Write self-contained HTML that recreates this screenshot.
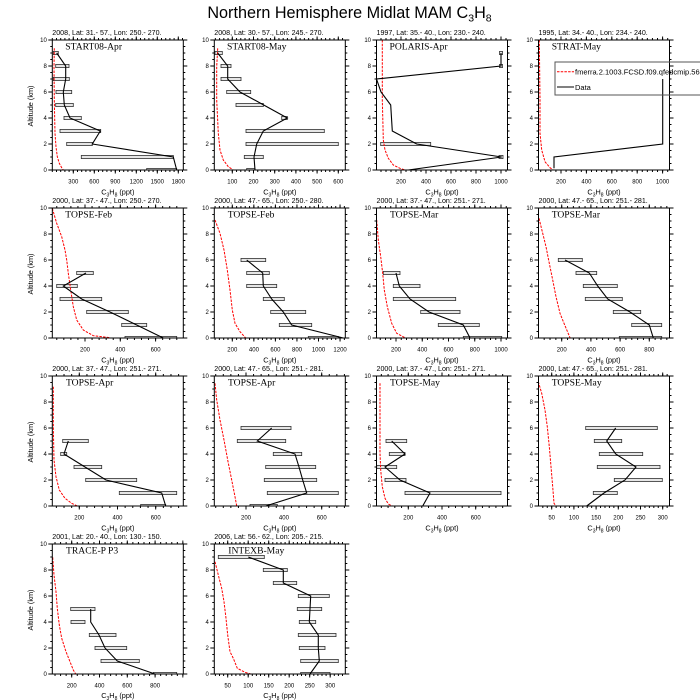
<!DOCTYPE html>
<html><head><meta charset="utf-8">
<style>
html,body{margin:0;padding:0;background:#fff;}
body{width:700px;height:700px;overflow:hidden;}
svg{display:block;}
text{font-family:"Liberation Sans",sans-serif;fill:#000;}
.yt{font-size:6px;text-anchor:end;}
.xt{font-size:6px;text-anchor:middle;}
.sub{font-size:7.1px;}
.lab{font-family:"Liberation Serif",serif;font-size:9.6px;}
.at{font-size:7.3px;text-anchor:middle;}
.ttl{font-size:16.2px;text-anchor:middle;}
.red{fill:none;stroke:#ff0000;stroke-width:1;stroke-dasharray:2.5 1.2;}
.blk{fill:none;stroke:#000;stroke-width:1.1;}
.bx rect{fill:#e6e6e6;stroke:#333;stroke-width:0.8;}
.fr{fill:none;stroke:#000;stroke-width:1;}
.tk line{stroke:#000;}
</style></head>
<body>
<svg width="700" height="700" viewBox="0 0 700 700" xmlns="http://www.w3.org/2000/svg">
<defs>
<g id="yl" stroke="#000"><line x1="-2" y1="-0.5" x2="-2" y2="130.5" stroke-width="4" stroke-dasharray="1 25"/><line x1="-1" y1="-0.5" x2="-1" y2="130.5" stroke-width="2" stroke-dasharray="1 5.5"/></g>
<g id="yr" stroke="#000"><line x1="2" y1="-0.5" x2="2" y2="130.5" stroke-width="4" stroke-dasharray="1 25"/><line x1="1" y1="-0.5" x2="1" y2="130.5" stroke-width="2" stroke-dasharray="1 5.5"/></g>
</defs>

<text class="ttl" x="349.5" y="18">Northern Hemisphere Midlat MAM C<tspan font-size="10.5" dy="3.3">3</tspan><tspan dy="-3.3">H</tspan><tspan font-size="10.5" dy="3.3">8</tspan></text>

<!-- ===== Panel 1 ===== -->
<g>
<text class="sub" x="52.3" y="35">2008, Lat:  31.- 57., Lon: 250.- 270.</text>
<g class="bx">
<rect x="53.3" y="51.4" width="5" height="3.2"/><rect x="55.7" y="64.4" width="13.3" height="3.2"/><rect x="53.3" y="77.4" width="16" height="3.2"/><rect x="56" y="90.4" width="15.7" height="3.2"/><rect x="55.7" y="103.4" width="17.6" height="3.2"/><rect x="64" y="116.4" width="17.3" height="3.2"/><rect x="60" y="129.4" width="40.7" height="3.2"/><rect x="66.7" y="142.4" width="25.6" height="3.2"/><rect x="81.3" y="155.4" width="92" height="3.2"/><rect x="146.7" y="168.4" width="30" height="1.6"/>
</g>
<polyline class="red" points="54.3,48.3 54,66.7 54.3,100 55,133.3 56,146.7 57.3,156.7 59.3,163.3 61.7,167.7 63.3,170"/>
<polyline class="blk" points="176.7,170 173.3,157 92.3,144 100.3,131 70,118 64.3,105 63.3,92 65.7,79 65.7,66 56.7,53"/>
<text class="lab" x="65.3" y="49.7">START08-Apr</text>
<use href="#yl" x="52.3" y="40"/><use href="#yr" x="183.3" y="40"/>
<g class="tk">
<line x1="51.8" y1="171" x2="183.3" y2="171" stroke-width="2" stroke-dasharray="1 3.2"/><line x1="72.8" y1="171.75" x2="183.3" y2="171.75" stroke-width="3.5" stroke-dasharray="1 20"/>
<line x1="51.8" y1="39" x2="183.3" y2="39" stroke-width="2" stroke-dasharray="1 3.2"/><line x1="72.8" y1="38.25" x2="183.3" y2="38.25" stroke-width="3.5" stroke-dasharray="1 20"/>
</g>
<rect class="fr" x="52.3" y="40" width="131" height="130"/>
<text class="yt" x="46.8" y="172.2">0</text><text class="yt" x="46.8" y="146.2">2</text><text class="yt" x="46.8" y="120.2">4</text><text class="yt" x="46.8" y="94.2">6</text><text class="yt" x="46.8" y="68.2">8</text><text class="yt" x="46.8" y="42.2">10</text>
<text class="xt" x="73.3" y="183.5">300</text><text class="xt" x="94.3" y="183.5">600</text><text class="xt" x="115.3" y="183.5">900</text><text class="xt" x="136.3" y="183.5">1200</text><text class="xt" x="157.3" y="183.5">1500</text><text class="xt" x="178.3" y="183.5">1800</text>
<text class="at" x="117.8" y="194.5">C<tspan font-size="5" dy="1.8">3</tspan><tspan dy="-1.8">H</tspan><tspan font-size="5" dy="1.8">8</tspan><tspan dy="-1.8"> (ppt)</tspan></text>
<text class="at" transform="translate(33,106) rotate(-90)">Altitude (km)</text>
</g>

<!-- ===== Panel 2 ===== -->
<g>
<text class="sub" x="214.3" y="35">2008, Lat:  30.- 57., Lon: 245.- 270.</text>
<g class="bx">
<rect x="215" y="51.4" width="7.3" height="3.2"/><rect x="221" y="64.4" width="10" height="3.2"/><rect x="221" y="77.4" width="20" height="3.2"/><rect x="226.7" y="90.4" width="24" height="3.2"/><rect x="236" y="103.4" width="27.3" height="3.2"/><rect x="281.7" y="116.4" width="5.6" height="3.2"/><rect x="246" y="129.4" width="78.3" height="3.2"/><rect x="246" y="142.4" width="92.3" height="3.2"/><rect x="244.3" y="155.4" width="19" height="3.2"/><rect x="246.7" y="168.4" width="8.3" height="1.6"/>
</g>
<polyline class="red" points="217.7,48.3 216.7,66.7 216.7,100 218.3,133.3 220,150 223.3,160 228.3,166.7 233.3,170"/>
<polyline class="blk" points="255,170 254,157 256.7,144 263.3,131 287.3,118 263.7,105 240,92 227.7,79 227.7,66 217.7,53"/>
<text class="lab" x="227" y="49.7">START08-May</text>
<use href="#yl" x="214.3" y="40"/><use href="#yr" x="345.3" y="40"/>
<g class="tk">
<line x1="214.84" y1="171" x2="345.3" y2="171" stroke-width="2" stroke-dasharray="1 3.24"/><line x1="231.8" y1="171.75" x2="345.3" y2="171.75" stroke-width="3.5" stroke-dasharray="1 20.2"/>
<line x1="214.84" y1="39" x2="345.3" y2="39" stroke-width="2" stroke-dasharray="1 3.24"/><line x1="231.8" y1="38.25" x2="345.3" y2="38.25" stroke-width="3.5" stroke-dasharray="1 20.2"/>
</g>
<rect class="fr" x="214.3" y="40" width="131" height="130"/>
<text class="yt" x="208.8" y="172.2">0</text><text class="yt" x="208.8" y="146.2">2</text><text class="yt" x="208.8" y="120.2">4</text><text class="yt" x="208.8" y="94.2">6</text><text class="yt" x="208.8" y="68.2">8</text><text class="yt" x="208.8" y="42.2">10</text>
<text class="xt" x="232.3" y="183.5">100</text><text class="xt" x="253.5" y="183.5">200</text><text class="xt" x="274.7" y="183.5">300</text><text class="xt" x="295.9" y="183.5">400</text><text class="xt" x="317.1" y="183.5">500</text><text class="xt" x="338.3" y="183.5">600</text>
<text class="at" x="279.8" y="194.5">C<tspan font-size="5" dy="1.8">3</tspan><tspan dy="-1.8">H</tspan><tspan font-size="5" dy="1.8">8</tspan><tspan dy="-1.8"> (ppt)</tspan></text>
</g>

<!-- ===== Panel 3 ===== -->
<g>
<text class="sub" x="376.5" y="35">1997, Lat: 35.- 40., Lon: 230.- 240.</text>
<g class="bx">
<rect x="499.5" y="51.4" width="3" height="3.2"/><rect x="499.5" y="64.4" width="3" height="3.2"/><rect x="380.7" y="142.4" width="50" height="3.2"/><rect x="499" y="155.4" width="4" height="3.2"/>
</g>
<polyline class="red" points="382.3,40 382.3,100 383,126.7 383.3,140 385,150 388.3,158.3 393.3,165 400,168.3 405,170"/>
<polyline class="blk" points="408.3,170 501.7,157 416.7,144 392.3,131 390.7,105 381,92 376.5,79 501,66 501,53"/>
<text class="lab" x="389.5" y="49.7">POLARIS-Apr</text>
<use href="#yl" x="376.5" y="40"/><use href="#yr" x="507.5" y="40"/>
<g class="tk">
<line x1="380.5" y1="171" x2="507.5" y2="171" stroke-width="2" stroke-dasharray="1 4"/><line x1="400.5" y1="171.75" x2="507.5" y2="171.75" stroke-width="3.5" stroke-dasharray="1 24"/>
<line x1="380.5" y1="39" x2="507.5" y2="39" stroke-width="2" stroke-dasharray="1 4"/><line x1="400.5" y1="38.25" x2="507.5" y2="38.25" stroke-width="3.5" stroke-dasharray="1 24"/>
</g>
<rect class="fr" x="376.5" y="40" width="131" height="130"/>
<text class="yt" x="371" y="172.2">0</text><text class="yt" x="371" y="146.2">2</text><text class="yt" x="371" y="120.2">4</text><text class="yt" x="371" y="94.2">6</text><text class="yt" x="371" y="68.2">8</text><text class="yt" x="371" y="42.2">10</text>
<text class="xt" x="401" y="183.5">200</text><text class="xt" x="426" y="183.5">400</text><text class="xt" x="451" y="183.5">600</text><text class="xt" x="476" y="183.5">800</text><text class="xt" x="501" y="183.5">1000</text>
<text class="at" x="442" y="194.5">C<tspan font-size="5" dy="1.8">3</tspan><tspan dy="-1.8">H</tspan><tspan font-size="5" dy="1.8">8</tspan><tspan dy="-1.8"> (ppt)</tspan></text>
</g>

<!-- ===== Panel 4 ===== -->
<g>
<text class="sub" x="538.5" y="35">1995, Lat: 34.- 40., Lon: 234.- 240.</text>
<polyline class="red" points="539.3,40 540,100 540,133.3 541.7,150 545,161.7 550,167.7 553.3,170"/>
<polyline class="blk" points="554,168.3 554,157 662.7,144 662.7,79"/>
<text class="lab" x="551.7" y="49.7">STRAT-May</text>
<use href="#yl" x="538.5" y="40"/><use href="#yr" x="669.5" y="40"/>
<g class="tk">
<line x1="540.18" y1="171" x2="669.5" y2="171" stroke-width="2" stroke-dasharray="1 4.08"/><line x1="560.5" y1="171.75" x2="669.5" y2="171.75" stroke-width="3.5" stroke-dasharray="1 24.4"/>
<line x1="540.18" y1="39" x2="669.5" y2="39" stroke-width="2" stroke-dasharray="1 4.08"/><line x1="560.5" y1="38.25" x2="669.5" y2="38.25" stroke-width="3.5" stroke-dasharray="1 24.4"/>
</g>
<rect class="fr" x="538.5" y="40" width="131" height="130"/>
<text class="yt" x="533" y="172.2">0</text><text class="yt" x="533" y="146.2">2</text><text class="yt" x="533" y="120.2">4</text><text class="yt" x="533" y="94.2">6</text><text class="yt" x="533" y="68.2">8</text><text class="yt" x="533" y="42.2">10</text>
<text class="xt" x="561" y="183.5">200</text><text class="xt" x="586.4" y="183.5">400</text><text class="xt" x="611.8" y="183.5">600</text><text class="xt" x="637.2" y="183.5">800</text><text class="xt" x="662.6" y="183.5">1000</text>
<text class="at" x="604" y="194.5">C<tspan font-size="5" dy="1.8">3</tspan><tspan dy="-1.8">H</tspan><tspan font-size="5" dy="1.8">8</tspan><tspan dy="-1.8"> (ppt)</tspan></text>
<!-- legend -->
<rect x="555" y="62" width="170" height="33" fill="none" stroke="#555" stroke-width="1"/>
<line x1="557" y1="71.7" x2="574" y2="71.7" stroke="#ff0000" stroke-width="1" stroke-dasharray="2.5 1.2"/>
<text x="575" y="74.5" font-size="7.5">fmerra.2.1003.FCSD.f09.qfedcmip.56L.001</text>
<line x1="557" y1="87" x2="574" y2="87" stroke="#000" stroke-width="1.1"/>
<text x="575" y="89.8" font-size="7.5">Data</text>
</g>

<!-- ===== Panel 5 ===== -->
<g>
<text class="sub" x="52.3" y="203">2000, Lat: 37.- 47., Lon: 250.- 270.</text>
<g class="bx">
<rect x="76.7" y="271.4" width="16.6" height="3.2"/><rect x="56.7" y="284.4" width="20.6" height="3.2"/><rect x="60" y="297.4" width="41.7" height="3.2"/><rect x="86.7" y="310.4" width="41.6" height="3.2"/><rect x="121.7" y="323.4" width="25" height="3.2"/><rect x="125" y="336.4" width="51.7" height="1.6"/>
</g>
<polyline class="red" points="52.3,208.3 56.7,223.3 61.7,236.7 65,250 66.7,260 68.3,273.3 70.7,290 73.3,306.7 76.7,320 83.3,330 93.3,335.7 110,337.7"/>
<polyline class="blk" points="163.3,338 136.7,325 110,312 81.7,299 63.3,286 86,273"/>
<text class="lab" x="65.3" y="217.7">TOPSE-Feb</text>
<use href="#yl" x="52.3" y="208"/><use href="#yr" x="183.3" y="208"/>
<g class="tk">
<line x1="56.26" y1="339" x2="183.3" y2="339" stroke-width="2" stroke-dasharray="1 6.06"/><line x1="84.5" y1="339.75" x2="183.3" y2="339.75" stroke-width="3.5" stroke-dasharray="1 34.3"/>
<line x1="56.26" y1="207" x2="183.3" y2="207" stroke-width="2" stroke-dasharray="1 6.06"/><line x1="84.5" y1="206.25" x2="183.3" y2="206.25" stroke-width="3.5" stroke-dasharray="1 34.3"/>
</g>
<rect class="fr" x="52.3" y="208" width="131" height="130"/>
<text class="yt" x="46.8" y="340.2">0</text><text class="yt" x="46.8" y="314.2">2</text><text class="yt" x="46.8" y="288.2">4</text><text class="yt" x="46.8" y="262.2">6</text><text class="yt" x="46.8" y="236.2">8</text><text class="yt" x="46.8" y="210.2">10</text>
<text class="xt" x="85" y="351.5">200</text><text class="xt" x="120.3" y="351.5">400</text><text class="xt" x="155.6" y="351.5">600</text>
<text class="at" x="117.8" y="362.5">C<tspan font-size="5" dy="1.8">3</tspan><tspan dy="-1.8">H</tspan><tspan font-size="5" dy="1.8">8</tspan><tspan dy="-1.8"> (ppt)</tspan></text>
<text class="at" transform="translate(33,274) rotate(-90)">Altitude (km)</text>
</g>

<!-- ===== Panel 6 ===== -->
<g>
<text class="sub" x="214.3" y="203">2000, Lat: 47.- 65., Lon: 250.- 280.</text>
<g class="bx">
<rect x="241" y="258.4" width="24.7" height="3.2"/><rect x="246.7" y="271.4" width="22.6" height="3.2"/><rect x="246.7" y="284.4" width="30" height="3.2"/><rect x="263.3" y="297.4" width="21" height="3.2"/><rect x="270.7" y="310.4" width="35" height="3.2"/><rect x="279.3" y="323.4" width="32.4" height="3.2"/><rect x="308.3" y="336.4" width="30" height="1.6"/>
</g>
<polyline class="red" points="215,220 220,233.3 224,250 227.3,270 230,290 232.3,310 235,323.3 240,331.7 245.7,338"/>
<polyline class="blk" points="343.3,338 291.7,325 283.3,312 271.7,299 263.3,286 262.7,273 246.7,260"/>
<text class="lab" x="227.7" y="217.7">TOPSE-Feb</text>
<use href="#yl" x="214.3" y="208"/><use href="#yr" x="345.3" y="208"/>
<g class="tk">
<line x1="214.56" y1="339" x2="345.3" y2="339" stroke-width="2" stroke-dasharray="1 3.31"/><line x1="231.8" y1="339.75" x2="345.3" y2="339.75" stroke-width="3.5" stroke-dasharray="1 20.55"/>
<line x1="214.56" y1="207" x2="345.3" y2="207" stroke-width="2" stroke-dasharray="1 3.31"/><line x1="231.8" y1="206.25" x2="345.3" y2="206.25" stroke-width="3.5" stroke-dasharray="1 20.55"/>
</g>
<rect class="fr" x="214.3" y="208" width="131" height="130"/>
<text class="yt" x="208.8" y="340.2">0</text><text class="yt" x="208.8" y="314.2">2</text><text class="yt" x="208.8" y="288.2">4</text><text class="yt" x="208.8" y="262.2">6</text><text class="yt" x="208.8" y="236.2">8</text><text class="yt" x="208.8" y="210.2">10</text>
<text class="xt" x="232.3" y="351.5">200</text><text class="xt" x="253.9" y="351.5">400</text><text class="xt" x="275.4" y="351.5">600</text><text class="xt" x="297" y="351.5">800</text><text class="xt" x="318.5" y="351.5">1000</text><text class="xt" x="340.1" y="351.5">1200</text>
<text class="at" x="279.8" y="362.5">C<tspan font-size="5" dy="1.8">3</tspan><tspan dy="-1.8">H</tspan><tspan font-size="5" dy="1.8">8</tspan><tspan dy="-1.8"> (ppt)</tspan></text>
</g>

<!-- ===== Panel 7 ===== -->
<g>
<text class="sub" x="376.5" y="203">2000, Lat: 37.- 47., Lon: 251.- 271.</text>
<g class="bx">
<rect x="383.3" y="271.4" width="16.7" height="3.2"/><rect x="393.3" y="284.4" width="26.7" height="3.2"/><rect x="393.3" y="297.4" width="62.4" height="3.2"/><rect x="420.7" y="310.4" width="39.3" height="3.2"/><rect x="438.3" y="323.4" width="41" height="3.2"/><rect x="463.3" y="336.4" width="38.4" height="1.6"/>
</g>
<polyline class="red" points="376.7,220 378.3,240 380.7,256.7 382.7,273.3 384.3,290 387.3,306.7 391.7,323.3 396.7,333.3 405,337.7"/>
<polyline class="blk" points="470,338 463.3,325 429,312 410,299 399.3,286 396,273"/>
<text class="lab" x="390" y="217.7">TOPSE-Mar</text>
<use href="#yl" x="376.5" y="208"/><use href="#yr" x="507.5" y="208"/>
<g class="tk">
<line x1="379.75" y1="339" x2="507.5" y2="339" stroke-width="2" stroke-dasharray="1 4.25"/><line x1="395.5" y1="339.75" x2="507.5" y2="339.75" stroke-width="3.5" stroke-dasharray="1 25.25"/>
<line x1="379.75" y1="207" x2="507.5" y2="207" stroke-width="2" stroke-dasharray="1 4.25"/><line x1="395.5" y1="206.25" x2="507.5" y2="206.25" stroke-width="3.5" stroke-dasharray="1 25.25"/>
</g>
<rect class="fr" x="376.5" y="208" width="131" height="130"/>
<text class="yt" x="371" y="340.2">0</text><text class="yt" x="371" y="314.2">2</text><text class="yt" x="371" y="288.2">4</text><text class="yt" x="371" y="262.2">6</text><text class="yt" x="371" y="236.2">8</text><text class="yt" x="371" y="210.2">10</text>
<text class="xt" x="396" y="351.5">200</text><text class="xt" x="422.3" y="351.5">400</text><text class="xt" x="448.5" y="351.5">600</text><text class="xt" x="474.8" y="351.5">800</text><text class="xt" x="501" y="351.5">1000</text>
<text class="at" x="442" y="362.5">C<tspan font-size="5" dy="1.8">3</tspan><tspan dy="-1.8">H</tspan><tspan font-size="5" dy="1.8">8</tspan><tspan dy="-1.8"> (ppt)</tspan></text>
</g>

<!-- ===== Panel 8 ===== -->
<g>
<text class="sub" x="538.5" y="203">2000, Lat: 47.- 65., Lon: 251.- 281.</text>
<g class="bx">
<rect x="558.3" y="258.4" width="24" height="3.2"/><rect x="576" y="271.4" width="20.7" height="3.2"/><rect x="583.3" y="284.4" width="34" height="3.2"/><rect x="585.3" y="297.4" width="37" height="3.2"/><rect x="613.3" y="310.4" width="27.4" height="3.2"/><rect x="631.7" y="323.4" width="30" height="3.2"/><rect x="619.3" y="336.4" width="42.4" height="1.6"/>
</g>
<polyline class="red" points="539,218.3 542.7,233.3 546,246.7 549.3,263.3 552.7,280 556,296.7 560,313.3 564,323.3 570,337.7"/>
<polyline class="blk" points="653.3,338 649.3,325 630,312 607.7,299 597.7,286 589.3,273 565,260"/>
<text class="lab" x="551.7" y="217.7">TOPSE-Mar</text>
<use href="#yl" x="538.5" y="208"/><use href="#yr" x="669.5" y="208"/>
<g class="tk">
<line x1="543.68" y1="339" x2="669.5" y2="339" stroke-width="2" stroke-dasharray="1 4.84"/><line x1="561.2" y1="339.75" x2="669.5" y2="339.75" stroke-width="3.5" stroke-dasharray="1 28.2"/>
<line x1="543.68" y1="207" x2="669.5" y2="207" stroke-width="2" stroke-dasharray="1 4.84"/><line x1="561.2" y1="206.25" x2="669.5" y2="206.25" stroke-width="3.5" stroke-dasharray="1 28.2"/>
</g>
<rect class="fr" x="538.5" y="208" width="131" height="130"/>
<text class="yt" x="533" y="340.2">0</text><text class="yt" x="533" y="314.2">2</text><text class="yt" x="533" y="288.2">4</text><text class="yt" x="533" y="262.2">6</text><text class="yt" x="533" y="236.2">8</text><text class="yt" x="533" y="210.2">10</text>
<text class="xt" x="561.7" y="351.5">200</text><text class="xt" x="590.9" y="351.5">400</text><text class="xt" x="620.1" y="351.5">600</text><text class="xt" x="649.3" y="351.5">800</text>
<text class="at" x="604" y="362.5">C<tspan font-size="5" dy="1.8">3</tspan><tspan dy="-1.8">H</tspan><tspan font-size="5" dy="1.8">8</tspan><tspan dy="-1.8"> (ppt)</tspan></text>
</g>

<!-- ===== Panel 9 ===== -->
<g>
<text class="sub" x="52.3" y="371">2000, Lat: 37.- 47., Lon: 251.- 271.</text>
<g class="bx">
<rect x="62.7" y="439.4" width="25.6" height="3.2"/><rect x="60.7" y="452.4" width="6" height="3.2"/><rect x="74" y="465.4" width="27.7" height="3.2"/><rect x="85.7" y="478.4" width="51" height="3.2"/><rect x="119.3" y="491.4" width="57.4" height="3.2"/><rect x="140.7" y="504.4" width="25" height="1.6"/>
</g>
<polyline class="red" points="53.3,386.7 53.3,426.7 54,460 56,476.7 59.3,490 65,498.3 71.7,503.3 77.3,506"/>
<polyline class="blk" points="165.7,506 161.7,493 106,480 85,467 64,454 68.3,441"/>
<text class="lab" x="66" y="385.7">TOPSE-Apr</text>
<use href="#yl" x="52.3" y="376"/><use href="#yr" x="183.3" y="376"/>
<g class="tk">
<line x1="55.88" y1="507" x2="183.3" y2="507" stroke-width="2" stroke-dasharray="1 6.64"/><line x1="78.8" y1="507.75" x2="183.3" y2="507.75" stroke-width="3.5" stroke-dasharray="1 37.2"/>
<line x1="55.88" y1="375" x2="183.3" y2="375" stroke-width="2" stroke-dasharray="1 6.64"/><line x1="78.8" y1="374.25" x2="183.3" y2="374.25" stroke-width="3.5" stroke-dasharray="1 37.2"/>
</g>
<rect class="fr" x="52.3" y="376" width="131" height="130"/>
<text class="yt" x="46.8" y="508.2">0</text><text class="yt" x="46.8" y="482.2">2</text><text class="yt" x="46.8" y="456.2">4</text><text class="yt" x="46.8" y="430.2">6</text><text class="yt" x="46.8" y="404.2">8</text><text class="yt" x="46.8" y="378.2">10</text>
<text class="xt" x="79.3" y="519.5">200</text><text class="xt" x="117.5" y="519.5">400</text><text class="xt" x="155.7" y="519.5">600</text>
<text class="at" x="117.8" y="530.5">C<tspan font-size="5" dy="1.8">3</tspan><tspan dy="-1.8">H</tspan><tspan font-size="5" dy="1.8">8</tspan><tspan dy="-1.8"> (ppt)</tspan></text>
<text class="at" transform="translate(33,442) rotate(-90)">Altitude (km)</text>
</g>

<!-- ===== Panel 10 ===== -->
<g>
<text class="sub" x="214.3" y="371">2000, Lat: 47.- 65., Lon: 251.- 281.</text>
<g class="bx">
<rect x="241" y="426.4" width="50" height="3.2"/><rect x="237.3" y="439.4" width="48.4" height="3.2"/><rect x="273.3" y="452.4" width="28.4" height="3.2"/><rect x="265.7" y="465.4" width="50" height="3.2"/><rect x="264.3" y="478.4" width="52.4" height="3.2"/><rect x="267.3" y="491.4" width="71" height="3.2"/><rect x="250" y="504.4" width="27.3" height="1.6"/>
</g>
<polyline class="red" points="215,383.3 216.7,400 220,420 224,440 227.7,460 231.7,480 235,496.7 236.7,506"/>
<polyline class="blk" points="265.7,506 306.7,493 302.7,480 299,467 295,454 257.3,441 271.7,428"/>
<text class="lab" x="228" y="385.7">TOPSE-Apr</text>
<use href="#yl" x="214.3" y="376"/><use href="#yr" x="345.3" y="376"/>
<g class="tk">
<line x1="215.22" y1="507" x2="345.3" y2="507" stroke-width="2" stroke-dasharray="1 6.57"/><line x1="245.5" y1="507.75" x2="345.3" y2="507.75" stroke-width="3.5" stroke-dasharray="1 36.85"/>
<line x1="215.22" y1="375" x2="345.3" y2="375" stroke-width="2" stroke-dasharray="1 6.57"/><line x1="245.5" y1="374.25" x2="345.3" y2="374.25" stroke-width="3.5" stroke-dasharray="1 36.85"/>
</g>
<rect class="fr" x="214.3" y="376" width="131" height="130"/>
<text class="yt" x="208.8" y="508.2">0</text><text class="yt" x="208.8" y="482.2">2</text><text class="yt" x="208.8" y="456.2">4</text><text class="yt" x="208.8" y="430.2">6</text><text class="yt" x="208.8" y="404.2">8</text><text class="yt" x="208.8" y="378.2">10</text>
<text class="xt" x="246" y="519.5">200</text><text class="xt" x="283.9" y="519.5">400</text><text class="xt" x="321.7" y="519.5">600</text>
<text class="at" x="279.8" y="530.5">C<tspan font-size="5" dy="1.8">3</tspan><tspan dy="-1.8">H</tspan><tspan font-size="5" dy="1.8">8</tspan><tspan dy="-1.8"> (ppt)</tspan></text>
</g>

<!-- ===== Panel 11 ===== -->
<g>
<text class="sub" x="376.5" y="371">2000, Lat: 37.- 47., Lon: 251.- 271.</text>
<g class="bx">
<rect x="386" y="439.4" width="20.7" height="3.2"/><rect x="389.3" y="452.4" width="15.7" height="3.2"/><rect x="376.7" y="465.4" width="20" height="3.2"/><rect x="385" y="478.4" width="21" height="3.2"/><rect x="405" y="491.4" width="96" height="3.2"/>
</g>
<polyline class="red" points="380,383.3 380,426.7 380,453.3 380.7,470 382.3,486.7 385,498.3 388.3,504 392.3,506"/>
<polyline class="blk" points="422.7,506 430,493 400,480 385,467 405,454 391.7,441"/>
<text class="lab" x="390" y="385.7">TOPSE-May</text>
<use href="#yl" x="376.5" y="376"/><use href="#yr" x="507.5" y="376"/>
<g class="tk">
<line x1="380.84" y1="507" x2="507.5" y2="507" stroke-width="2" stroke-dasharray="1 5.74"/><line x1="407.8" y1="507.75" x2="507.5" y2="507.75" stroke-width="3.5" stroke-dasharray="1 32.7"/>
<line x1="380.84" y1="375" x2="507.5" y2="375" stroke-width="2" stroke-dasharray="1 5.74"/><line x1="407.8" y1="374.25" x2="507.5" y2="374.25" stroke-width="3.5" stroke-dasharray="1 32.7"/>
</g>
<rect class="fr" x="376.5" y="376" width="131" height="130"/>
<text class="yt" x="371" y="508.2">0</text><text class="yt" x="371" y="482.2">2</text><text class="yt" x="371" y="456.2">4</text><text class="yt" x="371" y="430.2">6</text><text class="yt" x="371" y="404.2">8</text><text class="yt" x="371" y="378.2">10</text>
<text class="xt" x="408.3" y="519.5">200</text><text class="xt" x="442" y="519.5">400</text><text class="xt" x="475.7" y="519.5">600</text>
<text class="at" x="442" y="530.5">C<tspan font-size="5" dy="1.8">3</tspan><tspan dy="-1.8">H</tspan><tspan font-size="5" dy="1.8">8</tspan><tspan dy="-1.8"> (ppt)</tspan></text>
</g>

<!-- ===== Panel 12 ===== -->
<g>
<text class="sub" x="538.5" y="371">2000, Lat: 47.- 65., Lon: 251.- 281.</text>
<g class="bx">
<rect x="585.7" y="426.4" width="71.6" height="3.2"/><rect x="594.3" y="439.4" width="27.4" height="3.2"/><rect x="599.3" y="452.4" width="43.4" height="3.2"/><rect x="597.3" y="465.4" width="62.7" height="3.2"/><rect x="614.3" y="478.4" width="48" height="3.2"/><rect x="593.3" y="491.4" width="24" height="3.2"/>
</g>
<polyline class="red" points="538.3,381.7 541.7,393.3 545,410 547.3,426.7 549.3,446.7 551,466.7 552.7,486.7 554,503.3 556,506"/>
<polyline class="blk" points="586.7,506 604,493 625,480 636,467 615.7,454 606.7,441 615.7,428"/>
<text class="lab" x="551.7" y="385.7">TOPSE-May</text>
<use href="#yl" x="538.5" y="376"/><use href="#yr" x="669.5" y="376"/>
<g class="tk">
<line x1="542.32" y1="507" x2="669.5" y2="507" stroke-width="2" stroke-dasharray="1 3.44"/><line x1="551.2" y1="507.75" x2="669.5" y2="507.75" stroke-width="3.5" stroke-dasharray="1 21.2"/>
<line x1="542.32" y1="375" x2="669.5" y2="375" stroke-width="2" stroke-dasharray="1 3.44"/><line x1="551.2" y1="374.25" x2="669.5" y2="374.25" stroke-width="3.5" stroke-dasharray="1 21.2"/>
</g>
<rect class="fr" x="538.5" y="376" width="131" height="130"/>
<text class="yt" x="533" y="508.2">0</text><text class="yt" x="533" y="482.2">2</text><text class="yt" x="533" y="456.2">4</text><text class="yt" x="533" y="430.2">6</text><text class="yt" x="533" y="404.2">8</text><text class="yt" x="533" y="378.2">10</text>
<text class="xt" x="551.7" y="519.5">50</text><text class="xt" x="573.9" y="519.5">100</text><text class="xt" x="596.1" y="519.5">150</text><text class="xt" x="618.3" y="519.5">200</text><text class="xt" x="640.5" y="519.5">250</text><text class="xt" x="662.7" y="519.5">300</text>
<text class="at" x="604" y="530.5">C<tspan font-size="5" dy="1.8">3</tspan><tspan dy="-1.8">H</tspan><tspan font-size="5" dy="1.8">8</tspan><tspan dy="-1.8"> (ppt)</tspan></text>
</g>

<!-- ===== Panel 13 ===== -->
<g>
<text class="sub" x="52.3" y="539">2001, Lat: 20.- 40., Lon: 130.- 150.</text>
<g class="bx">
<rect x="70.7" y="607.4" width="24.3" height="3.2"/><rect x="71" y="620.4" width="14" height="3.2"/><rect x="89.3" y="633.4" width="26.7" height="3.2"/><rect x="95" y="646.4" width="31.7" height="3.2"/><rect x="101" y="659.4" width="38.3" height="3.2"/><rect x="153.3" y="672.4" width="23.4" height="1.6"/>
</g>
<polyline class="red" points="52.7,557.3 54,575 56,591.7 57.3,608.3 59.3,625 61.7,638.3 66,651.7 70,661.7 73.3,670 75.7,674"/>
<polyline class="blk" points="155,674 117.3,661 105,648 99,635 90.7,622 90.7,609"/>
<text class="lab" x="66" y="553.7">TRACE-P P3</text>
<use href="#yl" x="52.3" y="544"/><use href="#yr" x="183.3" y="544"/>
<g class="tk">
<line x1="54.52" y1="675" x2="183.3" y2="675" stroke-width="2" stroke-dasharray="1 4.56"/><line x1="71.2" y1="675.75" x2="183.3" y2="675.75" stroke-width="3.5" stroke-dasharray="1 26.8"/>
<line x1="54.52" y1="543" x2="183.3" y2="543" stroke-width="2" stroke-dasharray="1 4.56"/><line x1="71.2" y1="542.25" x2="183.3" y2="542.25" stroke-width="3.5" stroke-dasharray="1 26.8"/>
</g>
<rect class="fr" x="52.3" y="544" width="131" height="130"/>
<text class="yt" x="46.8" y="676.2">0</text><text class="yt" x="46.8" y="650.2">2</text><text class="yt" x="46.8" y="624.2">4</text><text class="yt" x="46.8" y="598.2">6</text><text class="yt" x="46.8" y="572.2">8</text><text class="yt" x="46.8" y="546.2">10</text>
<text class="xt" x="71.7" y="687.5">200</text><text class="xt" x="99.5" y="687.5">400</text><text class="xt" x="127.3" y="687.5">600</text><text class="xt" x="155.1" y="687.5">800</text>
<text class="at" x="117.8" y="698">C<tspan font-size="5" dy="1.8">3</tspan><tspan dy="-1.8">H</tspan><tspan font-size="5" dy="1.8">8</tspan><tspan dy="-1.8"> (ppt)</tspan></text>
<text class="at" transform="translate(33,610) rotate(-90)">Altitude (km)</text>
</g>

<!-- ===== Panel 14 ===== -->
<g>
<text class="sub" x="214.3" y="539">2006, Lat: 56.- 62., Lon: 205.- 215.</text>
<g class="bx">
<rect x="218.3" y="555.4" width="46" height="3.2"/><rect x="263.3" y="568.4" width="24" height="3.2"/><rect x="273.3" y="581.4" width="23.4" height="3.2"/><rect x="298.3" y="594.4" width="31" height="3.2"/><rect x="297.3" y="607.4" width="24.4" height="3.2"/><rect x="299.3" y="620.4" width="16.4" height="3.2"/><rect x="298.3" y="633.4" width="37.7" height="3.2"/><rect x="299.3" y="646.4" width="25.7" height="3.2"/><rect x="300.7" y="659.4" width="37.6" height="3.2"/><rect x="300.7" y="672.4" width="29.3" height="1.6"/>
</g>
<polyline class="red" points="215,561.7 218.3,575 221.7,588.3 224,601.7 226,618.3 227.7,635 230,651.7 233.3,658.3 237.3,668.3 245,672.3 250.7,674"/>
<polyline class="blk" points="310,674 319.3,661 318.3,648 318.3,635 309.3,622 310,609 310.7,596 283.3,583 283.3,570 248.3,557"/>
<text class="lab" x="228.3" y="553.7">INTEXB-May</text>
<use href="#yl" x="214.3" y="544"/><use href="#yr" x="345.3" y="544"/>
<g class="tk">
<line x1="214.9" y1="675" x2="345.3" y2="675" stroke-width="2" stroke-dasharray="1 3.1"/><line x1="227.2" y1="675.75" x2="345.3" y2="675.75" stroke-width="3.5" stroke-dasharray="1 19.5"/>
<line x1="214.9" y1="543" x2="345.3" y2="543" stroke-width="2" stroke-dasharray="1 3.1"/><line x1="227.2" y1="542.25" x2="345.3" y2="542.25" stroke-width="3.5" stroke-dasharray="1 19.5"/>
</g>
<rect class="fr" x="214.3" y="544" width="131" height="130"/>
<text class="yt" x="208.8" y="676.2">0</text><text class="yt" x="208.8" y="650.2">2</text><text class="yt" x="208.8" y="624.2">4</text><text class="yt" x="208.8" y="598.2">6</text><text class="yt" x="208.8" y="572.2">8</text><text class="yt" x="208.8" y="546.2">10</text>
<text class="xt" x="227.7" y="687.5">50</text><text class="xt" x="248.2" y="687.5">100</text><text class="xt" x="268.7" y="687.5">150</text><text class="xt" x="289.2" y="687.5">200</text><text class="xt" x="309.7" y="687.5">250</text><text class="xt" x="330.2" y="687.5">300</text>
<text class="at" x="279.8" y="698">C<tspan font-size="5" dy="1.8">3</tspan><tspan dy="-1.8">H</tspan><tspan font-size="5" dy="1.8">8</tspan><tspan dy="-1.8"> (ppt)</tspan></text>
</g>
</svg>
</body></html>
